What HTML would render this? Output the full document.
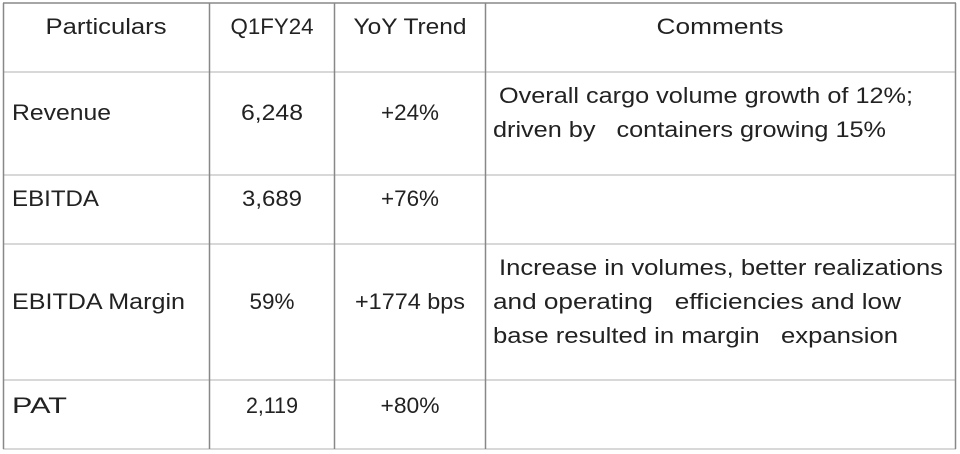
<!DOCTYPE html>
<html><head><style>html,body{margin:0;padding:0;background:#fff}svg{display:block}</style></head><body>
<svg width="960" height="454" xmlns="http://www.w3.org/2000/svg" font-family="Liberation Sans, sans-serif" font-size="22" fill="#222">
<rect width="960" height="454" fill="#fff"/>
<g stroke="#ccc" stroke-width="1.5">
<line x1="3" y1="72" x2="956" y2="72"/><line x1="3" y1="175" x2="956" y2="175"/>
<line x1="3" y1="244" x2="956" y2="244"/><line x1="3" y1="380" x2="956" y2="380"/>
<line x1="3" y1="449" x2="956" y2="449"/>
</g>
<g stroke="#888" stroke-width="1.5">
<line x1="3" y1="3" x2="956" y2="3"/>
<line x1="3.5" y1="3" x2="3.5" y2="449"/><line x1="209.5" y1="3" x2="209.5" y2="449"/>
<line x1="334.5" y1="3" x2="334.5" y2="449"/><line x1="485.5" y1="3" x2="485.5" y2="449"/>
<line x1="955.5" y1="3" x2="955.5" y2="449"/>
</g>
<g text-anchor="middle" lengthAdjust="spacingAndGlyphs">
<text x="106" y="34" textLength="121" lengthAdjust="spacingAndGlyphs">Particulars</text>
<text x="272" y="34" textLength="83" lengthAdjust="spacingAndGlyphs">Q1FY24</text>
<text x="410" y="34" textLength="113" lengthAdjust="spacingAndGlyphs">YoY Trend</text>
<text x="720" y="34" textLength="127" lengthAdjust="spacingAndGlyphs">Comments</text>
<text x="272" y="120" textLength="62" lengthAdjust="spacingAndGlyphs">6,248</text><text x="410" y="120" textLength="58" lengthAdjust="spacingAndGlyphs">+24%</text>
<text x="272" y="206" textLength="60" lengthAdjust="spacingAndGlyphs">3,689</text><text x="410" y="206" textLength="58" lengthAdjust="spacingAndGlyphs">+76%</text>
<text x="272" y="309" textLength="45" lengthAdjust="spacingAndGlyphs">59%</text><text x="410" y="309" textLength="110" lengthAdjust="spacingAndGlyphs">+1774 bps</text>
<text x="272" y="413" textLength="52" lengthAdjust="spacingAndGlyphs">2,119</text><text x="410" y="413" textLength="59" lengthAdjust="spacingAndGlyphs">+80%</text>
</g>
<text x="12" y="120" textLength="99" lengthAdjust="spacingAndGlyphs">Revenue</text>
<text x="12" y="206" textLength="87" lengthAdjust="spacingAndGlyphs">EBITDA</text>
<text x="12" y="309" textLength="173" lengthAdjust="spacingAndGlyphs">EBITDA Margin</text>
<text x="12" y="413" textLength="55" lengthAdjust="spacingAndGlyphs">PAT</text>
<text x="499" y="103" textLength="414" lengthAdjust="spacingAndGlyphs">Overall cargo volume growth of 12%;</text>
<text x="493" y="137" textLength="393" lengthAdjust="spacingAndGlyphs" xml:space="preserve">driven by   containers growing 15%</text>
<text x="499" y="275" textLength="444" lengthAdjust="spacingAndGlyphs">Increase in volumes, better realizations</text>
<text x="493" y="309" textLength="408" lengthAdjust="spacingAndGlyphs" xml:space="preserve">and operating   efficiencies and low</text>
<text x="493" y="343" textLength="405" lengthAdjust="spacingAndGlyphs" xml:space="preserve">base resulted in margin   expansion</text>
</svg>
</body></html>
